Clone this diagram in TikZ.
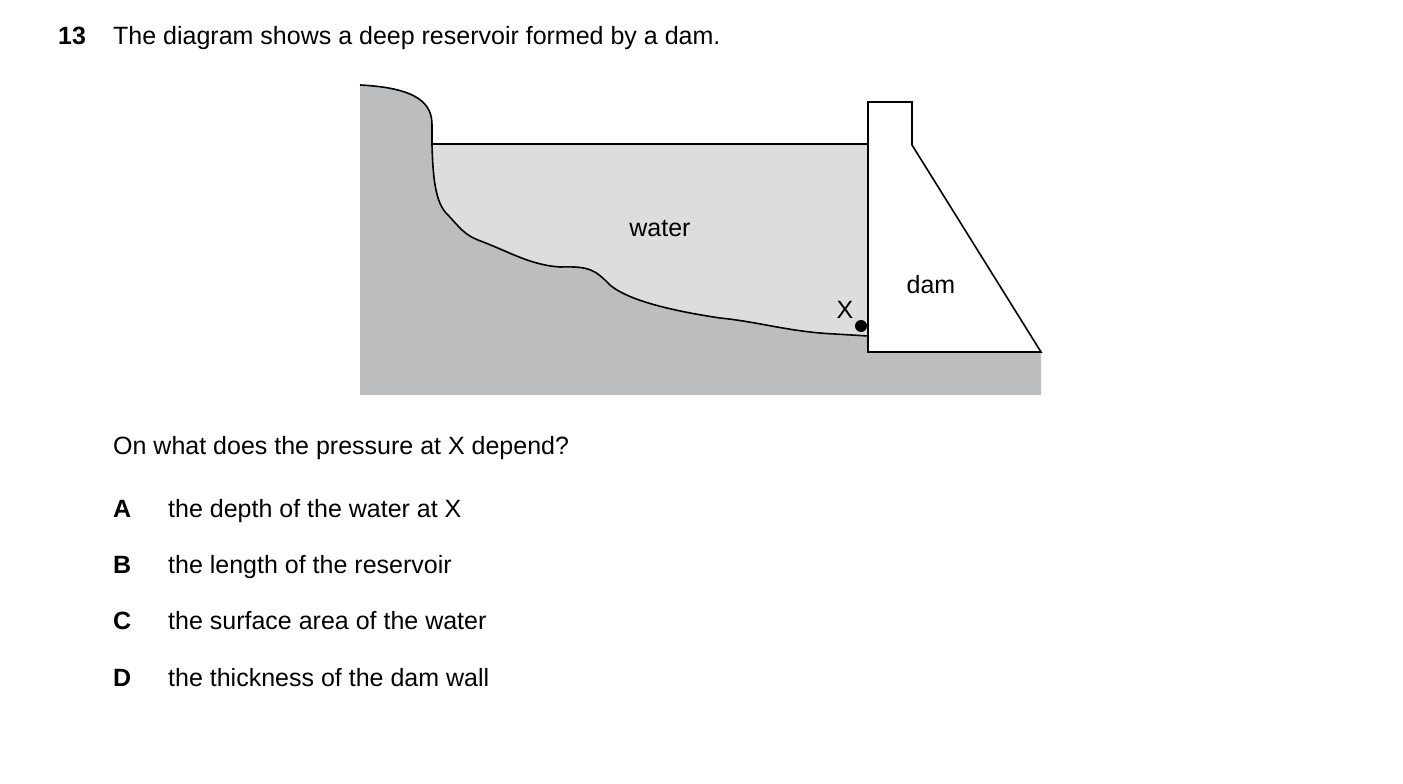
\documentclass[tikz,border=0pt]{standalone}
\usepackage{fontspec}
\setmainfont{Liberation Sans}
\begin{document}
\begin{tikzpicture}[x=1pt,y=-1pt,
  txt/.style={anchor=base west,inner sep=0pt,font=\fontsize{25}{30}\selectfont},
  lbl/.style={inner sep=0pt,font=\fontsize{25}{30}\selectfont}]
\definecolor{ground}{HTML}{BCBDBF}
\definecolor{wat}{HTML}{DCDDDF}
\useasboundingbox (0,0) rectangle (1403,784);
% ground
\fill[ground] (360,85) .. controls (420,88) and (432,105) .. (432,125) -- (432,145)
 .. controls (433,185) and (437,205) .. (448,215) .. controls (460,228) and (465,235) .. (478,240)
 .. controls (510,252) and (530,265) .. (560,267) .. controls (590,266) and (595,270) .. (610,285)
 .. controls (630,302) and (680,312) .. (720,318) .. controls (760,322) and (790,332) .. (835,334) -- (868,336)
 -- (868,352) -- (1041,352) -- (1041,395) -- (360,395) -- cycle;
% water
\fill[wat] (432,145) -- (868,145) -- (868,336) -- (835,334)
 .. controls (790,332) and (760,322) .. (720,318) .. controls (680,312) and (630,302) .. (610,285)
 .. controls (595,270) and (590,266) .. (560,267) .. controls (530,265) and (510,252) .. (478,240)
 .. controls (465,235) and (460,228) .. (448,215) .. controls (437,205) and (433,185) .. (432,145) -- cycle;
\draw[line width=1.6pt] (360,85) .. controls (420,88) and (432,105) .. (432,125) -- (432,145)
 .. controls (433,185) and (437,205) .. (448,215) .. controls (460,228) and (465,235) .. (478,240)
 .. controls (510,252) and (530,265) .. (560,267) .. controls (590,266) and (595,270) .. (610,285)
 .. controls (630,302) and (680,312) .. (720,318) .. controls (760,322) and (790,332) .. (835,334) -- (868,336);
\draw[line width=1.6pt] (432,144) -- (868,144);
% dam
\draw[fill=white,line width=1.6pt] (868,352) -- (868,102) -- (912,102) -- (912,145) -- (1041,352) -- cycle;
\fill (861,326) circle (6);
\node[lbl] (x) at (845,310) {X};
\node[lbl] (w) at (660,229) {water};
\node[lbl] (d) at (931,285) {dam};
% text
\node[txt] (n) at (58,45) {\textbf{13}};
\node[txt] (t) at (113,45) {The diagram shows a deep reservoir formed by a dam.};
\node[txt] (q) at (113,454) {On what does the pressure at X depend?};
\node[txt] (a) at (113,517) {\textbf{A}}; \node[txt] (at) at (168,517) {the depth of the water at X};
\node[txt] (b) at (113,573) {\textbf{B}}; \node[txt] (bt) at (168,573) {the length of the reservoir};
\node[txt] (c) at (113,629) {\textbf{C}}; \node[txt] (ct) at (168,629) {the surface area of the water};
\node[txt] (dd) at (113,686) {\textbf{D}}; \node[txt] (dt) at (168,686) {the thickness of the dam wall};
\end{tikzpicture}
\end{document}
